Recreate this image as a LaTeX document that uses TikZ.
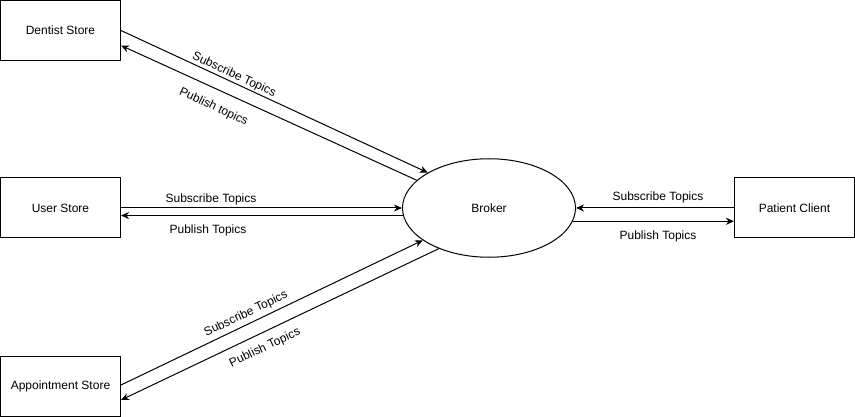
\documentclass[tikz,border=0pt]{standalone}
\usepackage{fontspec}
\setmainfont{Liberation Sans}
\usetikzlibrary{arrows.meta,shapes.geometric}
\begin{document}
\begin{tikzpicture}[x=1pt,y=-1pt,
  box/.style={draw,line width=1pt,minimum width=120pt,minimum height=60pt,inner sep=0pt,font=\fontsize{12}{14}\selectfont},
  hub/.style={draw,ellipse,line width=1pt,minimum width=173pt,minimum height=98.5pt,inner sep=0pt,font=\fontsize{12}{14}\selectfont},
  lbl/.style={inner sep=0pt,font=\fontsize{12}{14}\selectfont},
  link/.style={line width=1pt,-{Stealth[length=8pt,width=7pt,inset=2.5pt]}}]
\useasboundingbox (0,0) rectangle (855,417);
\node[box] (dentist) at (60.5,30.5) {Dentist Store};
\node[box] (user) at (60.5,208) {User Store};
\node[box] (appt) at (60.5,386.5) {Appointment Store};
\node[box] (patient) at (794.5,208) {Patient Client};
\node[hub] (broker) at (489,208) {Broker};

\draw[link] (dentist.east) -- (broker.150.9);
\draw[link] (broker.159.9) -- ([yshift=-15pt]dentist.east);
\draw[link] (user.east) -- (broker.west);
\draw[link] (broker.185.35) -- (broker.185.35 -| user.east);
\draw[link] (patient.west) -- (broker.east);
\draw[link] (broker.-9.36) -- (broker.-9.36 -| patient.west);
\draw[link] ([yshift=1.5pt]appt.east) -- (broker.206.3);
\draw[link] (broker.219.4) -- ([yshift=-13.5pt]appt.east);

\node[lbl,rotate=-25] (l1) at (234,75) {Subscribe Topics};
\node[lbl,rotate=-25] (l2) at (213.5,107) {Publish topics};
\node[lbl] (l3) at (211,199.5) {Subscribe Topics};
\node[lbl] (l4) at (208,230.5) {Publish Topics};
\node[lbl] (l5) at (658,197) {Subscribe Topics};
\node[lbl] (l6) at (658,236) {Publish Topics};
\node[lbl,rotate=25.5] (l7) at (246,314) {Subscribe Topics};
\node[lbl,rotate=25.5] (l8) at (265,348) {Publish Topics};
\end{tikzpicture}
\end{document}
